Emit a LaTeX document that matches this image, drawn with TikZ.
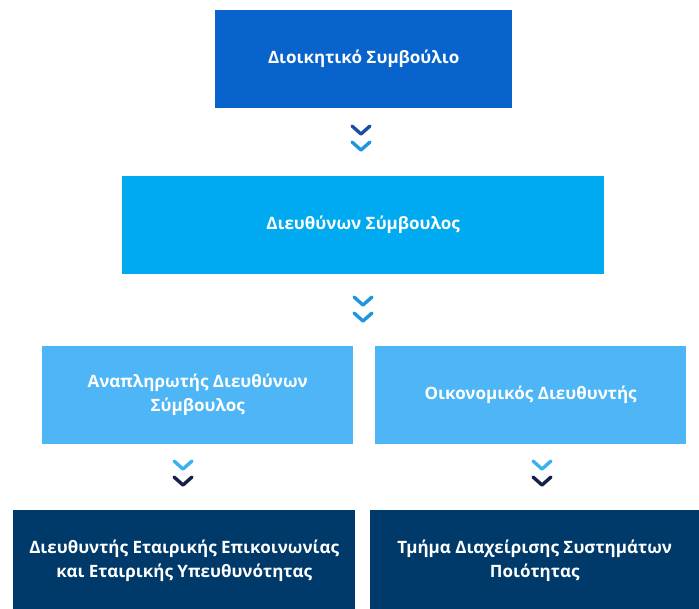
\documentclass[tikz,border=0pt]{standalone}
\usepackage{fontspec}
\setmainfont{Open Sans}
\definecolor{boxA}{RGB}{8,100,204}
\definecolor{boxB}{RGB}{0,170,240}
\definecolor{boxC}{RGB}{78,182,246}
\definecolor{boxD}{RGB}{0,58,106}
\definecolor{chevDark}{RGB}{28,78,160}
\definecolor{chevMid}{RGB}{30,150,222}
\definecolor{chevLight}{RGB}{58,178,240}
\definecolor{chevNavy}{RGB}{22,32,72}
\tikzset{
  orgbox/.style={rectangle, inner sep=4pt, anchor=north west, text=white,
    font=\bfseries\fontsize{17}{24}\selectfont, align=center},
  chev/.style={line width=3.4pt, line cap=round, line join=round},
}
\begin{document}
\begin{tikzpicture}[x=1pt,y=1pt]
\useasboundingbox (0,0) rectangle (699,-608);
\fill[white] (0,0) rectangle (699,-608);
% boxes
\node[orgbox, fill=boxA, minimum width=297pt, minimum height=98pt] (board) at (215,-10) {Διοικητικό Συμβούλιο};
\node[orgbox, fill=boxB, minimum width=482pt, minimum height=98pt] (ceo) at (122,-176) {Διευθύνων Σύμβουλος};
\node[orgbox, fill=boxC, minimum width=311pt, minimum height=98pt] (deputy) at (42,-346) {Αναπληρωτής Διευθύνων\\Σύμβουλος};
\node[orgbox, fill=boxC, minimum width=311pt, minimum height=98pt] (cfo) at (375,-346) {Οικονομικός Διευθυντής};
\node[orgbox, fill=boxD, minimum width=342pt, minimum height=102pt] (comm) at (13,-510) {Διευθυντής Εταιρικής Επικοινωνίας\\και Εταιρικής Υπευθυνότητας};
\node[orgbox, fill=boxD, minimum width=329pt, minimum height=102pt] (qual) at (370,-510) {Τμήμα Διαχείρισης Συστημάτων\\Ποιότητας};
% chevrons
\draw[chev, chevDark] (352,-126) -- (361,-134) -- (370,-126);
\draw[chev, chevMid] (352,-142) -- (361,-150) -- (370,-142);
\draw[chev, chevMid] (354,-297) -- (363,-305) -- (372,-297);
\draw[chev, chevMid] (354,-313) -- (363,-321) -- (372,-313);
\draw[chev, chevLight] (174,-461) -- (183,-469) -- (192,-461);
\draw[chev, chevNavy] (174,-477) -- (183,-485) -- (192,-477);
\draw[chev, chevLight] (533,-461) -- (542,-469) -- (551,-461);
\draw[chev, chevNavy] (533,-477) -- (542,-485) -- (551,-477);
\end{tikzpicture}
\end{document}
